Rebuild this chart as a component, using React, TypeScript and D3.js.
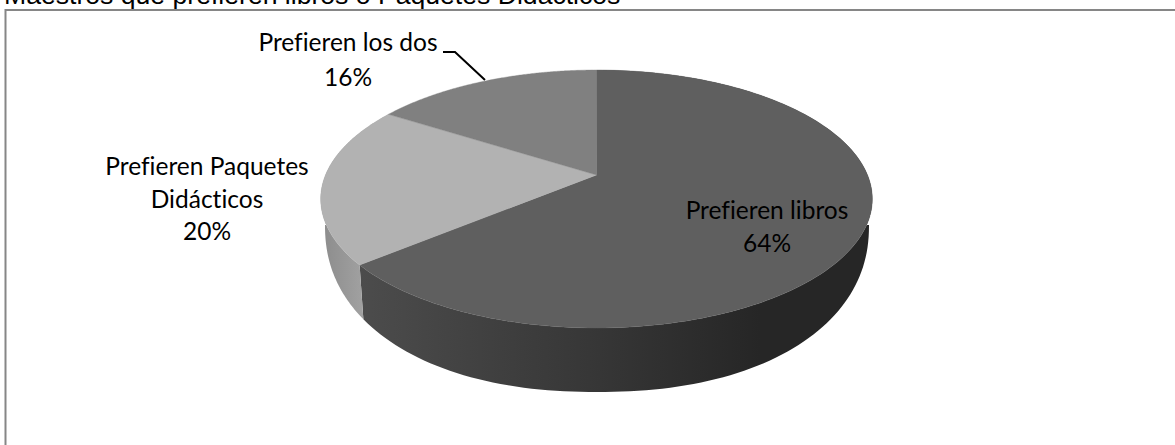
import React from "react";
import * as d3 from "d3";

const categories = ["Prefieren libros", "Prefieren Paquetes Didácticos", "Prefieren los dos"];
const values = [64, 20, 16];
const topColors = ["#5f5f5f", "#b2b2b2", "#808080"];
const title = "Maestros que prefieren libros o Paquetes Didácticos";

const K = 0.186;
const TOP = { cx: 596.5, cy: 175, A: 271, B: 124.5 };
const BOT = { cx: 597, cy: 225, a: 272, b: 167, n: 2.2 };
const RX = TOP.A / Math.sqrt(1 - K * K);
const projectTop = (t: number): [number, number] => {
  const s = Math.sin(t), c = Math.cos(t), w = 1 + K * c;
  return [TOP.cx + (TOP.A * s) / w, TOP.cy - (TOP.B * c) / w];
};
// lower rim of the disc: a slightly squared ellipse that follows the same angle;
// the far half is hidden behind the top face, so it stays on the widest line
const projectBot = (t: number): [number, number] => {
  const r = Math.max(-1, Math.min(1, (projectTop(t)[0] - TOP.cx) / RX));
  const near = Math.cos(t) < -K ? 1 : 0;
  return [BOT.cx + BOT.a * r, BOT.cy + near * BOT.b * Math.pow(1 - Math.pow(Math.abs(r), BOT.n), 1 / BOT.n)];
};
const arcPts = (f: (t: number) => [number, number], a: number, b: number) =>
  d3.range(0, 161).map((i) => f(a + ((b - a) * i) / 160));
const line = d3.line();

const labelFont = "Lato, Carlito, sans-serif";

export default function App() {
  const arcs = d3.pie<number>().sort(null)(values);
  return (
    <svg width={1175} height={445} style={{ position: "absolute", left: 0, top: 0, background: "#fff" }}>
      <defs>
        <linearGradient id="side0" gradientUnits="userSpaceOnUse" x1={360} x2={760} y1={0} y2={0}>
          <stop offset="0" stopColor="#4c4c4c" />
          <stop offset="0.6" stopColor="#363636" />
          <stop offset="1" stopColor="#262626" />
        </linearGradient>
        <linearGradient id="side1" gradientUnits="userSpaceOnUse" x1={322} x2={365} y1={0} y2={0}>
          <stop offset="0" stopColor="#8c8c8c" />
          <stop offset="1" stopColor="#a2a2a2" />
        </linearGradient>
      </defs>
      <rect x={5.5} y={10} width={1200} height={445} fill="#fff" stroke="#868686" strokeWidth={2} />
      <text x={4} y={3.5} fontFamily="'Liberation Sans', Arial, sans-serif" fontSize={26.6} fill="#000">{title}</text>
      {arcs.slice(0, 2).map((a, i) => (
        <path key={"s" + i} fill={`url(#side${i})`}
          d={(line([...arcPts(projectTop, a.startAngle, a.endAngle), ...arcPts(projectBot, a.startAngle, a.endAngle).reverse()]) ?? "") + "Z"} />
      ))}
      {arcs.map((a, i) => (
        <path key={"t" + i} fill={topColors[i]} stroke={topColors[i]} strokeWidth={0.4}
          d={(line([[TOP.cx, TOP.cy], ...arcPts(projectTop, a.startAngle, a.endAngle)]) ?? "") + "Z"} />
      ))}
      <polyline points="443,52 455,52 485,80" fill="none" stroke="#000" strokeWidth={2} />
      <g fontFamily={labelFont} fontSize={24.5} fill="#000" textAnchor="middle" style={{ fontVariantLigatures: "none" }}>
        <text x={767} y={219}>{categories[0]}</text>
        <text x={767} y={252}>{values[0]}%</text>
        <text x={207} y={175}>Prefieren Paquetes</text>
        <text x={207} y={208}>Didácticos</text>
        <text x={207} y={240}>{values[1]}%</text>
        <text x={348} y={51}>{categories[2]}</text>
        <text x={348} y={86}>{values[2]}%</text>
      </g>
    </svg>
  );
}
